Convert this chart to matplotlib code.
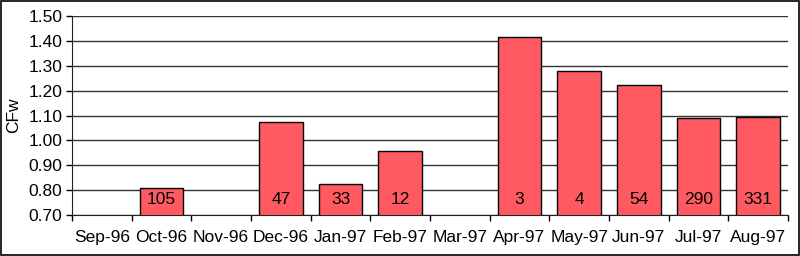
import numpy
import matplotlib
matplotlib.use('Agg')
import matplotlib.pyplot as plt
from matplotlib.patches import Rectangle

plt.rcParams['font.family'] = ['Liberation Sans', 'DejaVu Sans']

months = ['Sep-96', 'Oct-96', 'Nov-96', 'Dec-96', 'Jan-97', 'Feb-97',
          'Mar-97', 'Apr-97', 'May-97', 'Jun-97', 'Jul-97', 'Aug-97']
cfw = [numpy.nan, 0.81, numpy.nan, 1.075, 0.825, 0.958,
       numpy.nan, 1.415, 1.277, 1.224, 1.09, 1.095]
counts = ['', '105', '', '47', '33', '12', '', '3', '4', '54', '290', '331']

fs = 12.5
fig = plt.figure(figsize=(8, 2.56), dpi=100)
ax = fig.add_axes([0.09, 0.16, 0.895, 0.7775])

x = numpy.arange(len(months))
bars = ax.bar(x, cfw, width=0.73, bottom=0, color='#ff5a62',
              edgecolor='black', linewidth=1.0, zorder=3)

for xi, v, c in zip(x, cfw, counts):
    if c:
        ax.text(xi, 0.762, c, ha='center', va='center', fontsize=fs, zorder=4)

ax.set_ylim(0.70, 1.50)
ax.set_xlim(-0.5, len(months) - 0.5)
ax.set_yticks(numpy.arange(0.70, 1.51, 0.10))
ax.set_yticklabels(['%.2f' % v for v in numpy.arange(0.70, 1.51, 0.10)], fontsize=fs)
ax.set_xticks(x)
ax.set_xticklabels(months, fontsize=fs)
ax.set_xticks(numpy.arange(-0.5, len(months), 1.0), minor=True)
ax.tick_params(axis='x', which='major', length=0, pad=11)
ax.tick_params(axis='x', which='minor', length=4, width=1, direction='out')
ax.tick_params(axis='y', length=4, width=1, pad=3)
ax.set_ylabel('CFw', fontsize=fs, labelpad=5)

ax.grid(axis='y', color='#333333', linewidth=1.0, zorder=0)
ax.set_axisbelow(True)
for s in ['top', 'right']:
    ax.spines[s].set_visible(False)
ax.spines['left'].set_color('#222222')
ax.spines['bottom'].set_color('#222222')

fig.patches.append(Rectangle((0.001, 0.002), 0.998, 0.996, transform=fig.transFigure,
                             fill=False, edgecolor='black', linewidth=1.2))

plt.savefig('out.png', dpi=100)
